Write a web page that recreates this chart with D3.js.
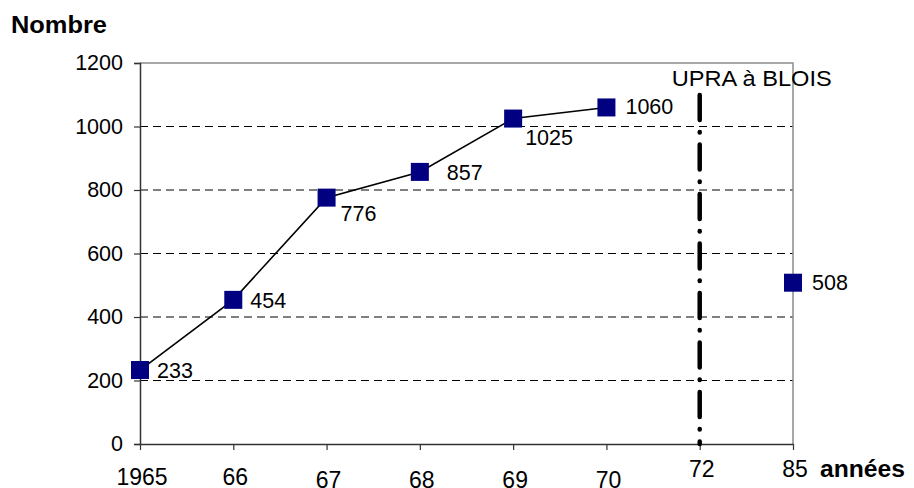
<!DOCTYPE html>
<html>
<head>
  <meta charset="utf-8">
  <title>Nombre par années</title>
  <script src="https://cdnjs.cloudflare.com/ajax/libs/d3/7.8.5/d3.min.js"></script>
  <style>
    body { margin: 0; background: #fff; }
    svg { display: block; font-family: "Liberation Sans", Arial, sans-serif; }
    .grid line { stroke: #000; stroke-dasharray: 8 5; stroke-width: 1; }
  </style>
</head>
<body>
<svg id="chart" width="914" height="488"></svg>
<script>
  // data
  var years = ["1965", "66", "67", "68", "69", "70", "72", "85"];
  var counts = [233, 454, 776, 857, 1025, 1060, null, 508];
  var yTicks = [0, 200, 400, 600, 800, 1000, 1200];

  // label tweaks (dx, dy from marker centre) and x label stagger
  var labelNudge = [[17, 0], [17, 0], [14, 16], [27, 0], [12, 19], [19, -1], [0, 0], [19, 0]];
  var xLabelBase = [485, 485, 487.5, 487.5, 487.5, 487.5, 477, 477];

  var svg = d3.select("#chart");
  var plotL = 140, plotR = 793, plotT = 63, plotB = 444;

  var x = d3.scalePoint().domain(years).range([plotL, plotR]);
  var y = d3.scaleLinear().domain([0, 1200]).range([plotB, plotT]);

  // dashed gridlines
  svg.append("g").attr("class", "grid")
    .selectAll("line")
    .data(yTicks.filter(function (d) { return d > 0 && d < 1200; }))
    .enter().append("line")
    .attr("x1", plotL).attr("x2", plotR)
    .attr("y1", function (d) { return y(d); })
    .attr("y2", function (d) { return y(d); });

  // top and right frame
  svg.append("path")
    .attr("d", "M" + plotL + "," + y(1200) + "H" + plotR + "V" + plotB)
    .attr("fill", "none").attr("stroke", "#8c8c8c").attr("stroke-width", 1.5);

  // y axis
  var yAxis = svg.append("g").attr("transform", "translate(" + plotL + ",0)")
    .call(d3.axisLeft(y).tickValues(yTicks).tickFormat(d3.format("d")).tickSize(6).tickPadding(11));
  yAxis.selectAll("text").attr("font-size", 21.5).attr("fill", "#000")
    .attr("font-family", "Liberation Sans, Arial, sans-serif");
  yAxis.select(".domain").attr("stroke", "#333").attr("stroke-width", 1.5);
  yAxis.selectAll(".tick line").attr("stroke", "#333").attr("stroke-width", 1.2);

  // x axis
  var xAxis = svg.append("g").attr("transform", "translate(0," + plotB + ")")
    .call(d3.axisBottom(x).tickSizeInner(6).tickSizeOuter(0));
  xAxis.select(".domain").attr("stroke", "#333").attr("stroke-width", 1.5);
  xAxis.selectAll(".tick line").attr("stroke", "#333").attr("stroke-width", 1.2);
  xAxis.selectAll(".tick text").remove();
  svg.append("g").selectAll("text")
    .data(years)
    .enter().append("text")
    .attr("x", function (d) { return x(d) + 2; })
    .attr("y", function (d, i) { return xLabelBase[i]; })
    .attr("text-anchor", "middle")
    .attr("font-size", 23)
    .text(function (d) { return d; });

  // vertical dash-dot marker at 72
  svg.append("line")
    .attr("x1", x("72")).attr("x2", x("72"))
    .attr("y1", 95).attr("y2", plotB)
    .attr("stroke", "#000").attr("stroke-width", 4.5)
    .attr("stroke-linecap", "round")
    .attr("stroke-dasharray", "25 12 0.5 12");

  svg.append("text")
    .attr("x", x("72") - 28).attr("y", 86)
    .attr("font-size", 22)
    .attr("textLength", 160)
    .attr("lengthAdjust", "spacingAndGlyphs")
    .text("UPRA à BLOIS");

  // series
  var pts = years.map(function (d, i) { return { year: d, value: counts[i], i: i }; });
  var line = d3.line()
    .defined(function (d) { return d.value != null; })
    .x(function (d) { return x(d.year); })
    .y(function (d) { return y(d.value); });

  svg.append("path")
    .datum(pts)
    .attr("d", line)
    .attr("fill", "none").attr("stroke", "#000").attr("stroke-width", 1.6);

  var real = pts.filter(function (d) { return d.value != null; });
  var s = 18;
  svg.append("g").selectAll("rect")
    .data(real)
    .enter().append("rect")
    .attr("x", function (d) { return x(d.year) - s / 2; })
    .attr("y", function (d) { return y(d.value) - s / 2; })
    .attr("width", s).attr("height", s)
    .attr("fill", "#000080");

  svg.append("g").selectAll("text")
    .data(real)
    .enter().append("text")
    .attr("x", function (d) { return x(d.year) + labelNudge[d.i][0]; })
    .attr("y", function (d) { return y(d.value) + labelNudge[d.i][1]; })
    .attr("dy", "0.36em")
    .attr("font-size", 21.5)
    .text(function (d) { return d.value; });

  // axis titles
  svg.append("text").attr("x", 11).attr("y", 33)
    .attr("font-size", 23).attr("font-weight", "bold")
    .attr("textLength", 96).attr("lengthAdjust", "spacingAndGlyphs")
    .text("Nombre");
  svg.append("text").attr("x", 820).attr("y", 477)
    .attr("font-size", 23).attr("font-weight", "bold")
    .attr("textLength", 85).attr("lengthAdjust", "spacingAndGlyphs")
    .text("années");
</script>
</body>
</html>
